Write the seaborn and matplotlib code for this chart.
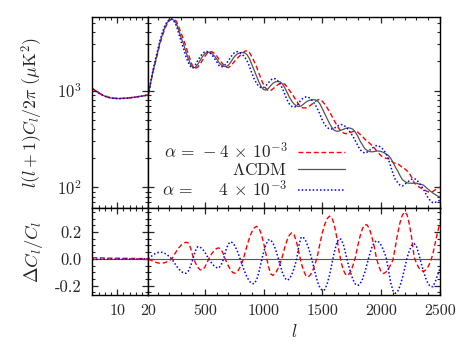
import matplotlib
matplotlib.use("Agg")
import matplotlib.pyplot as plt
from matplotlib.ticker import MultipleLocator, FixedLocator, LogLocator, NullFormatter, FormatStrFormatter
import numpy as np
import seaborn as sns

# ---- data ----
# low multipoles (left panels), l = 2..20
ell_low = list(range(2, 21))
dl_lcdm_low = [1045, 990, 945, 905, 875, 852, 838, 830, 826, 826,
               829, 834, 840, 848, 856, 866, 876, 888, 900]
dcl_neg_low = [0.008, 0.008, 0.007, 0.007, 0.006, 0.006, 0.005, 0.005, 0.005, 0.004,
               0.004, 0.004, 0.003, 0.003, 0.003, 0.002, 0.002, 0.001, 0.0]
dcl_pos_low = [-0.003, -0.003, -0.003, -0.002, -0.002, -0.002, -0.002, -0.002, -0.001, -0.001,
               -0.001, -0.001, -0.001, -0.001, -0.001, 0.0, 0.0, 0.0, 0.0]

# high multipoles (right panels), l = 20..2500 step 20
ell_high = list(range(20, 2501, 20))
dl_lcdm_high = [
    900, 1202, 1585, 1995, 2512, 3162, 3802, 4467, 5012, 5370,
    5470, 5310, 4898, 4169, 3508, 3020, 2512, 2138, 1862, 1718,
    1738, 1862, 2042, 2239, 2399, 2483, 2489, 2427, 2291, 2138,
    1950, 1841, 1778, 1770, 1820, 1950, 2138, 2291, 2399, 2455,
    2472, 2455, 2344, 2138, 1862, 1622, 1413, 1230, 1096, 1023,
    1012, 1047, 1122, 1189, 1230, 1239, 1230, 1175, 1072, 955,
    851, 776, 724, 692, 682, 692, 724, 759, 785, 798,
    804, 800, 776, 724, 646, 575, 513, 457, 417, 389,
    380, 380, 389, 398, 407, 412, 407, 398, 372, 339,
    302, 275, 251, 240, 234, 232, 234, 237, 237, 234,
    229, 221, 214, 200, 182, 162, 148, 132, 120, 115,
    111, 110, 110, 110, 110, 108, 107, 105, 100, 95,
    91, 87, 84, 81, 79]
# relative difference Delta C_l / C_l for alpha = -4e-3
dcl_neg_high = [
    0.0, -0.009, -0.018, -0.025, -0.030, -0.033, -0.032, -0.029, -0.021, -0.012,
    0.000, 0.029, 0.058, 0.083, 0.103, 0.117, 0.124, 0.119, 0.081, 0.017,
    -0.029, -0.062, -0.082, -0.083, -0.063, -0.026, 0.012, 0.039, 0.062, 0.077,
    0.082, 0.069, 0.032, -0.013, -0.052, -0.084, -0.104, -0.107, -0.093, -0.063,
    -0.020, 0.036, 0.101, 0.157, 0.201, 0.231, 0.243, 0.231, 0.188, 0.121,
    0.036, -0.051, -0.112, -0.124, -0.109, -0.078, -0.035, 0.017, 0.084, 0.139,
    0.179, 0.195, 0.180, 0.127, 0.049, -0.030, -0.088, -0.126, -0.135, -0.118,
    -0.083, -0.035, 0.031, 0.118, 0.195, 0.257, 0.299, 0.319, 0.309, 0.259,
    0.173, 0.065, -0.029, -0.087, -0.121, -0.122, -0.096, -0.050, 0.008, 0.095,
    0.168, 0.224, 0.254, 0.254, 0.224, 0.168, 0.095, 0.005, -0.056, -0.099,
    -0.110, -0.099, -0.077, -0.045, -0.008, 0.088, 0.189, 0.270, 0.327, 0.350,
    0.331, 0.257, 0.150, 0.014, -0.034, -0.066, -0.087, -0.093, -0.082, -0.057,
    -0.020, 0.040, 0.120, 0.200, 0.270]
# relative difference Delta C_l / C_l for alpha = +4e-3
dcl_pos_high = [
    0.0, 0.015, 0.029, 0.040, 0.047, 0.050, 0.048, 0.041, 0.030, 0.016,
    0.000, -0.028, -0.054, -0.077, -0.095, -0.105, -0.108, -0.091, -0.052, 0.000,
    0.059, 0.091, 0.088, 0.074, 0.051, 0.020, -0.010, -0.034, -0.053, -0.065,
    -0.068, -0.045, 0.000, 0.064, 0.111, 0.128, 0.118, 0.091, 0.051, 0.002,
    -0.049, -0.097, -0.138, -0.168, -0.184, -0.186, -0.159, -0.101, -0.024, 0.049,
    0.107, 0.141, 0.142, 0.118, 0.075, 0.020, -0.043, -0.102, -0.143, -0.160,
    -0.150, -0.118, -0.069, -0.009, 0.098, 0.163, 0.159, 0.132, 0.087, 0.030,
    -0.039, -0.112, -0.174, -0.218, -0.237, -0.230, -0.190, -0.124, -0.040, 0.044,
    0.112, 0.150, 0.146, 0.103, 0.032, -0.041, -0.104, -0.155, -0.188, -0.200,
    -0.188, -0.154, -0.102, -0.038, 0.027, 0.083, 0.121, 0.135, 0.126, 0.101,
    0.063, 0.017, -0.073, -0.173, -0.238, -0.258, -0.243, -0.203, -0.143, -0.069,
    0.009, 0.062, 0.101, 0.115, 0.093, 0.036, -0.033, -0.095, -0.148, -0.187,
    -0.207, -0.208, -0.170, -0.120, -0.070]

labels = [r"$\alpha\,=\,-4\,\times\,10^{-3}$", r"$\Lambda\mathrm{CDM}$",
          r"$\alpha\,=\,\;\;\;\;\;4\,\times\,10^{-3}$"]

# spectra of the two alpha models from the relative differences
dl_neg_low = np.array(dl_lcdm_low) * (1 + np.array(dcl_neg_low))
dl_pos_low = np.array(dl_lcdm_low) * (1 + np.array(dcl_pos_low))
dl_neg_high = np.array(dl_lcdm_high) * (1 + np.array(dcl_neg_high))
dl_pos_high = np.array(dl_lcdm_high) * (1 + np.array(dcl_pos_high))

sns.set_style("ticks")
plt.rcParams.update({
    "font.family": ["cmr10", "DejaVu Serif"],
    "mathtext.fontset": "cm",
    "axes.unicode_minus": False,
    "axes.formatter.use_mathtext": True,
    "font.size": 12,
    "axes.linewidth": 1.0,
    "axes.edgecolor": "black",
    "xtick.direction": "in",
    "ytick.direction": "in",
    "xtick.top": True,
    "ytick.right": True,
    "xtick.major.size": 4.0,
    "ytick.major.size": 4.0,
    "xtick.minor.size": 2.0,
    "ytick.minor.size": 2.0,
    "xtick.major.width": 0.9,
    "ytick.major.width": 0.9,
    "xtick.minor.width": 0.8,
    "ytick.minor.width": 0.8,
    "xtick.major.pad": 7,
    "ytick.major.pad": 8,
    "xtick.labelsize": 11.5,
    "ytick.labelsize": 12,
})

RED = "#ff0000"
BLUE = "#0000ff"
GREY = "#555555"
red_ls = (0, (3.5, 2.0))
blue_ls = (0, (1.0, 1.4))

fig = plt.figure(figsize=(4.63, 3.47), dpi=100)
ax_tl = fig.add_axes([0.1994, 0.4006, 0.1210, 0.5513])
ax_tr = fig.add_axes([0.3203, 0.4006, 0.6300, 0.5513])
ax_bl = fig.add_axes([0.1994, 0.1499, 0.1210, 0.2507])
ax_br = fig.add_axes([0.3203, 0.1499, 0.6300, 0.2507])

for ax in (ax_tl, ax_tr):
    ax.set_yscale("log")

# top panels: spectra
sns.lineplot(x=ell_low, y=dl_lcdm_low, ax=ax_tl, color=GREY, lw=0.9, legend=False)
sns.lineplot(x=ell_low, y=dl_neg_low, ax=ax_tl, color=RED, lw=1.0, linestyle=red_ls, legend=False)
sns.lineplot(x=ell_low, y=dl_pos_low, ax=ax_tl, color=BLUE, lw=1.1, linestyle=blue_ls, legend=False)

sns.lineplot(x=ell_high, y=dl_neg_high, ax=ax_tr, color=RED, lw=1.0, linestyle=red_ls, label=labels[0])
sns.lineplot(x=ell_high, y=dl_lcdm_high, ax=ax_tr, color=GREY, lw=0.9, label=labels[1])
sns.lineplot(x=ell_high, y=dl_pos_high, ax=ax_tr, color=BLUE, lw=1.1, linestyle=blue_ls, label=labels[2])

# bottom panels: relative differences
for ax in (ax_bl, ax_br):
    ax.axhline(0, color=GREY, lw=0.8)
sns.lineplot(x=ell_low, y=dcl_neg_low, ax=ax_bl, color=RED, lw=1.0, linestyle=red_ls, legend=False)
sns.lineplot(x=ell_low, y=dcl_pos_low, ax=ax_bl, color=BLUE, lw=1.1, linestyle=blue_ls, legend=False)
sns.lineplot(x=ell_high, y=dcl_neg_high, ax=ax_br, color=RED, lw=1.0, linestyle=red_ls, legend=False)
sns.lineplot(x=ell_high, y=dcl_pos_high, ax=ax_br, color=BLUE, lw=1.1, linestyle=blue_ls, legend=False)

# axes limits and ticks
for ax in (ax_tl, ax_bl):
    ax.set_xlim(2, 20)
    ax.xaxis.set_major_locator(FixedLocator([10, 20]))
    ax.xaxis.set_minor_locator(MultipleLocator(2))
for ax in (ax_tr, ax_br):
    ax.set_xlim(20, 2500)
    ax.xaxis.set_major_locator(MultipleLocator(500))
    ax.xaxis.set_minor_locator(MultipleLocator(100))
for ax in (ax_tl, ax_tr):
    ax.set_ylim(61, 5800)
    ax.yaxis.set_major_locator(LogLocator(base=10))
    ax.yaxis.set_minor_locator(LogLocator(base=10, subs=np.arange(2, 10)))
    ax.yaxis.set_minor_formatter(NullFormatter())
    ax.tick_params(labelbottom=False)
for ax in (ax_bl, ax_br):
    ax.set_ylim(-0.27, 0.38)
    ax.yaxis.set_major_locator(MultipleLocator(0.2))
    ax.yaxis.set_minor_locator(MultipleLocator(0.05))
    ax.yaxis.set_major_formatter(FormatStrFormatter("%.1f"))
for ax in (ax_tr, ax_br):
    ax.tick_params(labelleft=False)
ax_br.xaxis.set_major_formatter(FormatStrFormatter("%d"))
ax_bl.xaxis.set_major_formatter(FormatStrFormatter("%d"))
for ax in (ax_tl, ax_tr, ax_bl, ax_br):
    ax.tick_params(which="both", top=True, right=True)
    ax.set_xlabel("")
    ax.set_ylabel("")

ax_tl.set_ylabel(r"$l(l+1)C_l/2\pi\ (\mu\mathrm{K}^2)$", fontsize=12.8)
ax_bl.set_ylabel(r"$\Delta C_l/C_l$", fontsize=13.5)
ax_tl.yaxis.set_label_coords(-0.84, 0.5)
ax_bl.yaxis.set_label_coords(-0.84, 0.5)
ax_br.set_xlabel(r"$l$", labelpad=3, fontsize=12.5)

ax_tr.legend(loc="lower right", bbox_to_anchor=(0.674, 0.045), frameon=False,
             markerfirst=False, handlelength=2.7, handletextpad=0.6,
             labelspacing=0.05, borderpad=0.0, borderaxespad=0.0, fontsize=12.5)

fig.savefig("out.png", dpi=100)
